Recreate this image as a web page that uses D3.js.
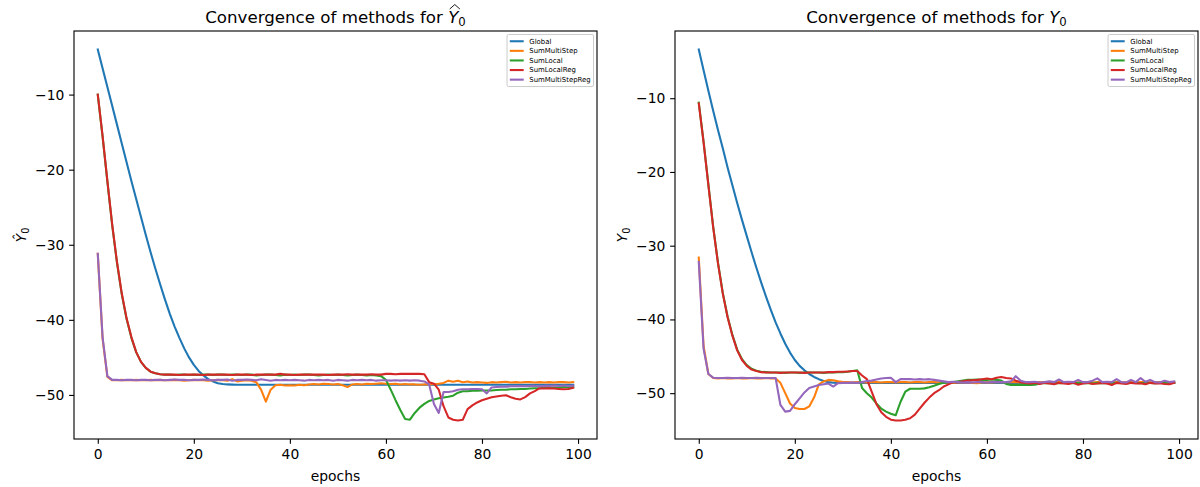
<!DOCTYPE html>
<html>
<head>
<meta charset="utf-8">
<script src="https://cdn.jsdelivr.net/npm/d3@7"></script>
<style>
  body { margin: 0; background: #fff; }
  text { font-family: "DejaVu Sans", sans-serif; fill: #000; }
</style>
</head>
<body>
<svg id="fig" width="1200" height="487"></svg>
<script>
// ---- data -------------------------------------------------------------
const methods = ["Global", "SumMultiStep", "SumLocal", "SumLocalReg", "SumMultiStepReg"];
const colors  = ["#1f77b4", "#ff7f0e", "#2ca02c", "#d62728", "#9467bd"];
const xTicks  = [0, 20, 40, 60, 80, 100];
const yTicks  = [-50, -40, -30, -20, -10];
const epochs  = d3.range(100);

// estimate  Ŷ0 per epoch
const hatGlobal = [
  -4.0, -6.5, -9.0, -11.5, -14.0, -16.5, -19.0, -21.5, -23.9, -26.3,
  -28.7, -31.0, -33.2, -35.3, -37.3, -39.2, -40.9, -42.4, -43.8, -45.0,
  -46.0, -46.8, -47.4, -47.9, -48.2, -48.45, -48.55, -48.6, -48.63, -48.65,
  -48.65, -48.65, -48.65, -48.65, -48.65, -48.65, -48.65, -48.65, -48.65, -48.65,
  -48.65, -48.65, -48.65, -48.65, -48.65, -48.65, -48.65, -48.65, -48.65, -48.65,
  -48.65, -48.65, -48.65, -48.65, -48.65, -48.65, -48.65, -48.65, -48.65, -48.65,
  -48.65, -48.65, -48.65, -48.65, -48.65, -48.65, -48.65, -48.65, -48.65, -48.65,
  -48.65, -48.65, -48.65, -48.65, -48.65, -48.65, -48.65, -48.65, -48.65, -48.65,
  -48.65, -48.65, -48.65, -48.65, -48.65, -48.65, -48.65, -48.65, -48.65, -48.65,
  -48.65, -48.65, -48.65, -48.65, -48.65, -48.65, -48.65, -48.65, -48.65, -48.65
];
const hatSumMultiStep = [
  -31.2, -42.5, -47.6, -48.05, -48.05, -48.0, -48.05, -48.05, -48.0, -48.05,
  -48.05, -48.0, -48.05, -48.0, -48.05, -48.05, -48.0, -48.05, -48.1, -48.05,
  -48.0, -48.05, -48.05, -48.1, -48.05, -48.0, -48.05, -48.1, -47.9, -48.2,
  -48.1, -48.05, -48.1, -48.3, -49.3, -50.9, -49.3, -48.7, -48.65, -48.75,
  -48.7, -48.75, -48.65, -48.7, -48.6, -48.55, -48.6, -48.5, -48.55, -48.6,
  -48.55, -48.7, -48.95, -48.6, -48.55, -48.6, -48.5, -48.55, -48.5, -48.45,
  -48.5, -48.55, -48.5, -48.6, -48.55, -48.6, -48.6, -48.65, -48.6, -48.6,
  -48.55, -48.5, -48.4, -48.1, -48.25, -48.1, -48.3, -48.2, -48.35, -48.3,
  -48.35, -48.4, -48.3, -48.35, -48.3, -48.25, -48.35, -48.3, -48.35, -48.3,
  -48.3, -48.35, -48.3, -48.35, -48.3, -48.35, -48.3, -48.3, -48.35, -48.3
];
const hatSumLocal = [
  -10.0, -15.6, -21.6, -27.4, -32.4, -36.6, -39.9, -42.4, -44.3, -45.6,
  -46.4, -46.9, -47.1, -47.25, -47.3, -47.3, -47.35, -47.3, -47.3, -47.35,
  -47.3, -47.35, -47.3, -47.3, -47.35, -47.3, -47.3, -47.35, -47.3, -47.3,
  -47.35, -47.3, -47.3, -47.4, -47.35, -47.3, -47.3, -47.35, -47.4, -47.3,
  -47.35, -47.3, -47.35, -47.3, -47.3, -47.35, -47.4, -47.35, -47.3, -47.35,
  -47.3, -47.35, -47.4, -47.35, -47.3, -47.35, -47.4, -47.35, -47.4, -47.5,
  -48.0, -49.3, -50.7, -52.0, -53.2, -53.3, -52.4, -51.7, -51.2, -50.8,
  -50.6, -50.45, -50.35, -50.25, -50.1, -49.7, -49.5, -49.5, -49.45, -49.45,
  -49.4, -49.4, -49.4, -49.35, -49.3, -49.3, -49.25, -49.25, -49.2, -49.2,
  -49.15, -49.1, -49.1, -49.05, -49.05, -49.0, -49.0, -48.95, -49.0, -48.95
];
const hatSumLocalReg = [
  -10.0, -15.5, -21.5, -27.3, -32.3, -36.5, -39.8, -42.3, -44.3, -45.6,
  -46.4, -46.9, -47.1, -47.25, -47.3, -47.3, -47.3, -47.35, -47.3, -47.3,
  -47.3, -47.3, -47.35, -47.3, -47.3, -47.3, -47.3, -47.3, -47.35, -47.3,
  -47.3, -47.3, -47.35, -47.3, -47.3, -47.3, -47.3, -47.3, -47.2, -47.3,
  -47.3, -47.35, -47.3, -47.3, -47.3, -47.3, -47.3, -47.3, -47.35, -47.3,
  -47.3, -47.3, -47.25, -47.3, -47.3, -47.3, -47.3, -47.25, -47.3, -47.3,
  -47.2, -47.2, -47.25, -47.2, -47.2, -47.2, -47.2, -47.2, -47.25, -48.3,
  -48.5, -49.3, -51.5, -53.0, -53.3, -53.4, -53.3, -51.9, -51.4, -51.0,
  -50.7, -50.5, -50.3, -50.2, -50.1, -50.05, -50.3, -50.5, -50.6, -50.3,
  -49.8, -49.5, -49.1, -49.15, -49.1, -49.15, -49.2, -49.25, -49.2, -49.05
];
const hatSumMultiStepReg = [
  -31.2, -42.3, -47.5, -48.0, -48.0, -48.05, -48.0, -48.0, -48.05, -48.0,
  -48.0, -48.05, -48.0, -48.0, -48.05, -48.0, -47.95, -48.0, -48.0, -48.05,
  -48.0, -48.0, -47.95, -48.0, -48.05, -48.0, -48.0, -47.95, -48.1, -48.0,
  -48.0, -47.95, -48.0, -48.05, -47.9, -48.0, -48.1, -48.0, -48.05, -48.0,
  -48.05, -48.0, -48.05, -48.1, -48.0, -48.05, -48.0, -48.05, -48.0, -48.1,
  -48.0, -48.05, -48.1, -48.0, -48.05, -48.0, -48.05, -48.0, -48.1, -48.05,
  -48.05, -48.1, -48.05, -48.1, -48.05, -48.1, -48.05, -48.1, -48.2, -48.6,
  -51.2, -52.4, -49.6, -49.6, -49.5, -49.3, -49.25, -49.25, -49.2, -49.2,
  -49.25, -49.8, -49.0, -48.95, -48.9, -48.9, -48.85, -48.85, -48.8, -48.85,
  -48.8, -48.8, -48.85, -48.8, -48.8, -48.75, -48.8, -48.75, -48.8, -48.75
];

// Y0 per epoch
const yGlobal = [
  -3.4, -6.2, -9.0, -11.7, -14.3, -16.8, -19.4, -21.8, -24.2, -26.5,
  -28.7, -30.9, -33.0, -35.0, -36.9, -38.7, -40.4, -41.9, -43.3, -44.5,
  -45.5, -46.3, -46.9, -47.4, -47.8, -48.1, -48.35, -48.5, -48.58, -48.6,
  -48.6, -48.6, -48.6, -48.6, -48.6, -48.6, -48.6, -48.6, -48.6, -48.6,
  -48.6, -48.6, -48.6, -48.6, -48.6, -48.6, -48.6, -48.6, -48.6, -48.6,
  -48.6, -48.6, -48.6, -48.6, -48.6, -48.6, -48.6, -48.6, -48.6, -48.6,
  -48.6, -48.6, -48.6, -48.6, -48.6, -48.6, -48.6, -48.6, -48.6, -48.6,
  -48.6, -48.6, -48.6, -48.6, -48.6, -48.6, -48.6, -48.6, -48.6, -48.6,
  -48.6, -48.6, -48.6, -48.6, -48.6, -48.6, -48.6, -48.6, -48.6, -48.6,
  -48.6, -48.6, -48.6, -48.6, -48.6, -48.6, -48.6, -48.6, -48.6, -48.6
];
const ySumMultiStep = [
  -31.6, -43.6, -47.4, -47.95, -48.0, -47.95, -48.0, -48.0, -47.95, -48.0,
  -48.0, -47.95, -48.0, -48.0, -47.95, -48.0, -48.0, -48.6, -50.0, -51.4,
  -52.0, -52.15, -52.15, -51.8, -50.6, -48.8, -48.4, -48.2, -48.25, -48.4,
  -48.5, -48.5, -48.55, -48.5, -48.5, -48.55, -48.5, -48.5, -48.55, -48.5,
  -48.5, -48.55, -48.5, -48.5, -48.55, -48.5, -48.5, -48.55, -48.5, -48.5,
  -48.55, -48.5, -48.55, -48.6, -48.5, -48.55, -48.5, -48.6, -48.65, -48.55,
  -48.5, -48.55, -48.5, -48.5, -48.55, -48.5, -48.5, -48.55, -48.5, -48.5,
  -48.55, -48.5, -48.5, -48.55, -48.5, -48.5, -48.55, -48.5, -48.5, -48.55,
  -48.5, -48.5, -48.55, -48.5, -48.5, -48.55, -48.5, -48.5, -48.55, -48.5,
  -48.5, -48.55, -48.5, -48.5, -48.55, -48.5, -48.5, -48.55, -48.5, -48.5
];
const ySumLocal = [
  -10.6, -15.9, -21.7, -27.4, -32.3, -36.4, -39.6, -42.1, -44.1, -45.4,
  -46.2, -46.7, -46.95, -47.1, -47.15, -47.2, -47.2, -47.2, -47.25, -47.2,
  -47.2, -47.25, -47.2, -47.2, -47.2, -47.2, -47.25, -47.2, -47.2, -47.15,
  -47.15, -47.1, -47.0, -46.9, -49.3, -50.0, -50.6, -51.4, -52.1, -52.5,
  -52.8, -53.0, -51.2, -49.8, -49.4, -49.4, -49.4, -49.35, -49.2, -49.0,
  -48.75, -48.6, -48.5, -48.5, -48.4, -48.3, -48.2, -48.2, -48.15, -48.2,
  -48.2, -48.15, -48.2, -48.3, -48.75, -48.9, -48.9, -48.85, -48.9, -48.9,
  -48.85, -48.7, -48.6, -48.65, -48.6, -48.65, -48.6, -48.6, -48.65, -48.6,
  -48.65, -48.6, -48.7, -48.6, -48.65, -48.6, -48.65, -48.6, -48.6, -48.65,
  -48.6, -48.6, -48.65, -48.6, -48.6, -48.65, -48.6, -48.6, -48.65, -48.6
];
const ySumLocalReg = [
  -10.7, -16.0, -21.8, -27.5, -32.4, -36.5, -39.7, -42.2, -44.2, -45.5,
  -46.3, -46.8, -47.0, -47.15, -47.2, -47.2, -47.2, -47.25, -47.2, -47.2,
  -47.2, -47.2, -47.25, -47.2, -47.2, -47.2, -47.2, -47.15, -47.15, -47.1,
  -47.1, -47.05, -47.0, -47.0, -47.6, -48.1, -49.8, -51.5, -52.6, -53.2,
  -53.6, -53.7, -53.7, -53.6, -53.4, -52.9, -52.1, -51.3, -50.6, -50.0,
  -49.6, -49.1, -48.8, -48.5, -48.5, -48.4, -48.3, -48.25, -48.2, -48.1,
  -48.0, -48.1, -47.9, -47.8, -47.95, -48.0, -48.3, -48.5, -48.6, -48.7,
  -48.6, -48.75, -48.6, -48.7, -48.8, -48.6, -48.7, -48.75, -48.6, -48.85,
  -48.7, -48.6, -48.75, -48.7, -48.6, -48.7, -48.9, -48.6, -48.7, -48.75,
  -48.6, -48.7, -48.65, -48.8, -48.6, -48.7, -48.65, -48.75, -48.8, -48.6
];
const ySumMultiStepReg = [
  -32.2, -44.0, -47.4, -47.9, -47.95, -47.95, -47.9, -47.95, -47.95, -47.9,
  -47.95, -47.95, -47.9, -47.95, -47.95, -47.95, -47.95, -51.6, -52.5, -52.4,
  -51.5, -50.7, -49.9, -49.3, -49.1, -48.9, -48.8, -48.7, -49.1, -48.65,
  -48.6, -48.6, -48.55, -48.6, -48.5, -48.35, -48.3, -48.15, -48.0, -47.95,
  -47.9, -48.5, -48.1, -48.1, -48.1, -48.15, -48.1, -48.15, -48.1, -48.2,
  -48.3, -48.4, -48.5, -48.45, -48.5, -48.55, -48.5, -48.55, -48.5, -48.5,
  -48.55, -48.5, -48.45, -48.5, -48.5, -48.4, -47.7, -48.3, -48.5, -48.5,
  -48.45, -48.55, -48.5, -48.4, -48.5, -48.15, -48.5, -48.45, -48.5, -48.2,
  -48.5, -48.5, -48.3, -48.0, -48.5, -48.45, -48.5, -48.1, -48.5, -48.55,
  -48.2, -48.5, -47.95, -48.45, -48.2, -48.5, -48.55, -48.3, -48.5, -48.4
];

// ---- layout -----------------------------------------------------------
const PT = 100 / 72;               // px per point
const axTop = 31, axBottom = 439;
const panels = [
  { left: 74, right: 597, hat: true,
    series: [hatGlobal, hatSumMultiStep, hatSumLocal, hatSumLocalReg, hatSumMultiStepReg] },
  { left: 675, right: 1198, hat: false,
    series: [yGlobal, ySumMultiStep, ySumLocal, ySumLocalReg, ySumMultiStepReg] }
];

const svg = d3.select("#fig");
svg.append("rect").attr("width", 1200).attr("height", 487).attr("fill", "#fff");

panels.forEach(p => {
  const g = svg.append("g");

  // matplotlib-style 5% autoscale margins
  const all = p.series.flat();
  const lo = d3.min(all), hi = d3.max(all), m = (hi - lo) * 0.05;
  const x = d3.scaleLinear().domain([-0.05 * 99, 99 * 1.05]).range([p.left, p.right]);
  const y = d3.scaleLinear().domain([lo - m, hi + m]).range([axBottom, axTop]);

  // series lines
  const line = d3.line().x((d, i) => x(epochs[i])).y(d => y(d));
  p.series.forEach((s, k) => {
    g.append("path").datum(s)
      .attr("d", line)
      .attr("fill", "none")
      .attr("stroke", colors[k])
      .attr("stroke-width", 1.5 * PT)
      .attr("stroke-linejoin", "round")
      .attr("stroke-linecap", "square");
  });

  // axes
  const tickLen = 3.5 * PT, tickPad = 3.5 * PT;
  const xa = g.append("g").attr("transform", `translate(0,${axBottom})`)
    .call(d3.axisBottom(x).tickValues(xTicks).tickSize(tickLen).tickPadding(tickPad));
  const ya = g.append("g").attr("transform", `translate(${p.left},0)`)
    .call(d3.axisLeft(y).tickValues(yTicks).tickSize(tickLen).tickPadding(tickPad));
  [xa, ya].forEach(a => {
    a.select(".domain").remove();
    a.selectAll("line").attr("stroke", "#000").attr("stroke-width", 0.8 * PT);
    a.selectAll("text").style("font-size", (10 * PT) + "px")
      .style("font-family", "'DejaVu Sans', sans-serif").attr("fill", "#000");
  });

  // frame
  g.append("rect")
    .attr("x", p.left).attr("y", axTop)
    .attr("width", p.right - p.left).attr("height", axBottom - axTop)
    .attr("fill", "none").attr("stroke", "#000").attr("stroke-width", 0.8 * PT);

  // x label
  g.append("text")
    .attr("x", (p.left + p.right) / 2).attr("y", 481)
    .attr("text-anchor", "middle").style("font-size", (10 * PT) + "px")
    .text("epochs");

  // y label
  const yl = g.append("text")
    .attr("transform", `translate(${p.left - 48},${(axTop + axBottom) / 2}) rotate(-90)`)
    .attr("text-anchor", "middle").style("font-size", (10 * PT) + "px");
  yl.append("tspan").style("font-style", "italic").text(p.hat ? "\u0176" : "Y");
  yl.append("tspan").attr("dy", 3).style("font-size", (7 * PT) + "px").text("0");

  // title
  const titleSize = 12 * PT;
  const prefix = "Convergence of methods for ";
  const tt = g.append("text")
    .attr("x", (p.left + p.right) / 2).attr("y", 22.7)
    .attr("text-anchor", "middle").style("font-size", titleSize + "px");
  tt.append("tspan").text(prefix);
  tt.append("tspan").style("font-style", "italic").text("Y");
  tt.append("tspan").attr("dy", 3.5).style("font-size", (8.4 * PT) + "px").text("0");
  if (p.hat) {
    // wide hat over the Y
    const ext = tt.node().getExtentOfChar(prefix.length);
    const x0 = ext.x + 1.5, x1 = ext.x + ext.width + 1.5;
    const base = 22.7 - 0.729 * titleSize - 1.5;
    g.append("path")
      .attr("d", `M${x0},${base} L${(x0 + x1) / 2},${base - 4.5} L${x1},${base}`)
      .attr("fill", "none").attr("stroke", "#000").attr("stroke-width", 0.9);
  }

  // legend
  const fs = 5 * PT;
  const pad = 0.4 * fs, hLen = 2 * fs, hPad = 0.8 * fs, rowH = 9.6;
  const lg = g.append("g");
  const labels = lg.selectAll("text.lab").data(methods).join("text")
    .attr("class", "lab").style("font-size", fs + "px").text(d => d);
  const maxW = d3.max(labels.nodes(), n => n.getComputedTextLength());
  const bw = pad + hLen + hPad + maxW + pad;
  const bx = p.right - 0.5 * fs - bw, by = axTop + 0.5 * fs;
  const bh = pad * 2 + rowH * methods.length - 1.5;
  lg.insert("rect", "text")
    .attr("x", bx).attr("y", by).attr("width", bw).attr("height", bh)
    .attr("rx", 1.5).attr("fill", "#fff").attr("fill-opacity", 0.8)
    .attr("stroke", "#cccccc").attr("stroke-width", 1);
  methods.forEach((mName, k) => {
    const cy = by + pad + 4 + rowH * k;
    lg.append("line")
      .attr("x1", bx + pad).attr("x2", bx + pad + hLen)
      .attr("y1", cy).attr("y2", cy)
      .attr("stroke", colors[k]).attr("stroke-width", 1.5 * PT);
  });
  labels.attr("x", bx + pad + hLen + hPad)
    .attr("y", (d, k) => by + pad + 4 + rowH * k)
    .attr("dy", "0.35em");
});
</script>
</body>
</html>
